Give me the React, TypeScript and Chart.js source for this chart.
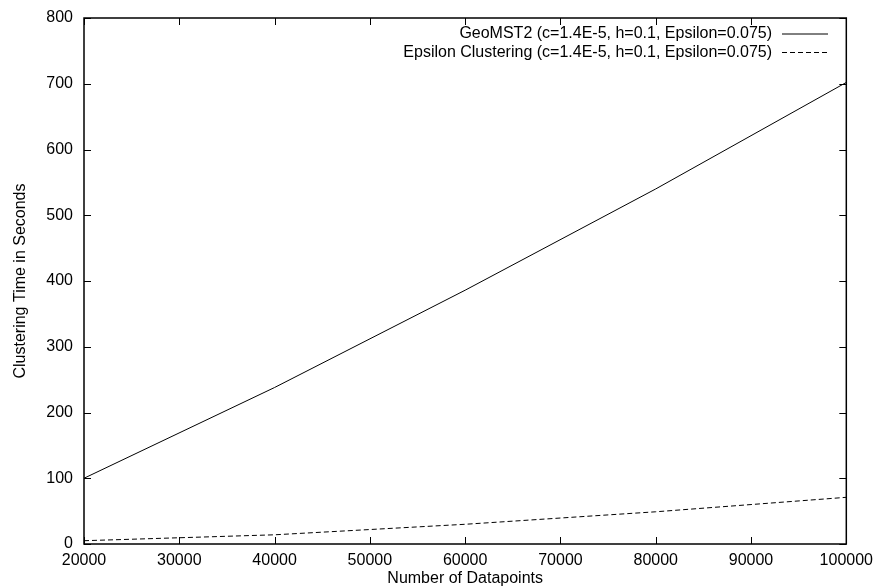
import React, { useEffect, useRef } from "react";
import { Chart, registerables } from "chart.js";

Chart.register(...registerables);

const xValues = [20000, 40000, 60000, 80000, 100000];
const geoMST2 = [100, 238, 386, 540, 702];
const epsilonClustering = [5, 14, 30, 49, 71];
const seriesLabels = [
  "GeoMST2 (c=1.4E-5, h=0.1, Epsilon=0.075)",
  "Epsilon Clustering (c=1.4E-5, h=0.1, Epsilon=0.075)",
];
const xTitle = "Number of Datapoints";
const yTitle = "Clustering Time in Seconds";

const FONT = "'Liberation Sans', Arial, sans-serif";

const framePlugin = {
  id: "gnuplotFrame",
  afterDraw(chart: any) {
    const { ctx, chartArea } = chart;
    const { left, right, top, bottom } = chartArea;
    const xs = chart.scales.x;
    const ys = chart.scales.y;
    ctx.save();
    ctx.strokeStyle = "#000";
    ctx.lineWidth = 1;
    const tl = 7;
    ctx.beginPath();
    for (const t of xs.ticks) {
      const px = Math.round(xs.getPixelForValue(t.value)) + 0.5;
      ctx.moveTo(px, bottom);
      ctx.lineTo(px, bottom - tl);
      ctx.moveTo(px, top);
      ctx.lineTo(px, top + tl);
    }
    for (const t of ys.ticks) {
      const py = Math.round(ys.getPixelForValue(t.value)) + 0.5;
      ctx.moveTo(left, py);
      ctx.lineTo(left + tl, py);
      ctx.moveTo(right, py);
      ctx.lineTo(right - tl, py);
    }
    ctx.stroke();
    ctx.lineWidth = 1.5;
    ctx.strokeRect(left, top, right - left, bottom - top);
    ctx.font = `16px ${FONT}`;
    ctx.fillStyle = "#000";
    ctx.textAlign = "right";
    ctx.textBaseline = "middle";
    const rows = [34, 52.5];
    const dashes = [[], [5, 3]];
    seriesLabels.forEach((lab, i) => {
      ctx.fillText(lab, 772, rows[i]);
      ctx.beginPath();
      ctx.lineWidth = 1;
      ctx.setLineDash(dashes[i]);
      ctx.moveTo(782, rows[i]);
      ctx.lineTo(828, rows[i]);
      ctx.stroke();
    });
    ctx.setLineDash([]);
    ctx.restore();
  },
};

export default function App() {
  const ref = useRef<HTMLCanvasElement>(null);
  useEffect(() => {
    if (!ref.current) return;
    const chart = new Chart(ref.current, {
      type: "line",
      data: {
        datasets: [
          {
            label: seriesLabels[0],
            data: xValues.map((x, i) => ({ x, y: geoMST2[i] })),
            borderColor: "#000",
            borderWidth: 1,
            pointRadius: 0,
            fill: false,
            tension: 0,
          },
          {
            label: seriesLabels[1],
            data: xValues.map((x, i) => ({ x, y: epsilonClustering[i] })),
            borderColor: "#000",
            borderWidth: 1,
            borderDash: [5, 3],
            pointRadius: 0,
            fill: false,
            tension: 0,
          },
        ],
      },
      options: {
        animation: false,
        responsive: false,
        layout: { padding: { left: 0, top: 10, right: 20, bottom: 0 } },
        plugins: { legend: { display: false }, tooltip: { enabled: false } },
        scales: {
          x: {
            type: "linear",
            min: 20000,
            max: 100000,
            grid: { display: false, drawTicks: false },
            border: { display: false },
            ticks: {
              stepSize: 10000,
              padding: 7,
              color: "#000",
              maxRotation: 0,
              font: { family: FONT, size: 16 },
              callback: (v: any) => String(v),
            },
            title: {
              display: true,
              text: xTitle,
              color: "#000",
              font: { family: FONT, size: 16 },
              padding: { top: 0, bottom: 0 },
            },
            afterFit: (s: any) => {
              s.height = 44;
            },
          },
          y: {
            min: 0,
            max: 800,
            grid: { display: false, drawTicks: false },
            border: { display: false },
            ticks: {
              stepSize: 100,
              padding: 11,
              color: "#000",
              font: { family: FONT, size: 16, lineHeight: 0.875 },
            },
            title: {
              display: true,
              text: yTitle,
              color: "#000",
              font: { family: FONT, size: 16 },
              padding: { top: 11, bottom: 0 },
            },
            afterFit: (s: any) => {
              s.width = 84;
            },
          },
        },
      },
      plugins: [framePlugin],
    });
    return () => chart.destroy();
  }, []);
  return (
    <div style={{ position: "absolute", left: 0, top: 0, width: 880, height: 588, background: "#fff" }}>
      <canvas ref={ref} width={880} height={588} />
    </div>
  );
}
